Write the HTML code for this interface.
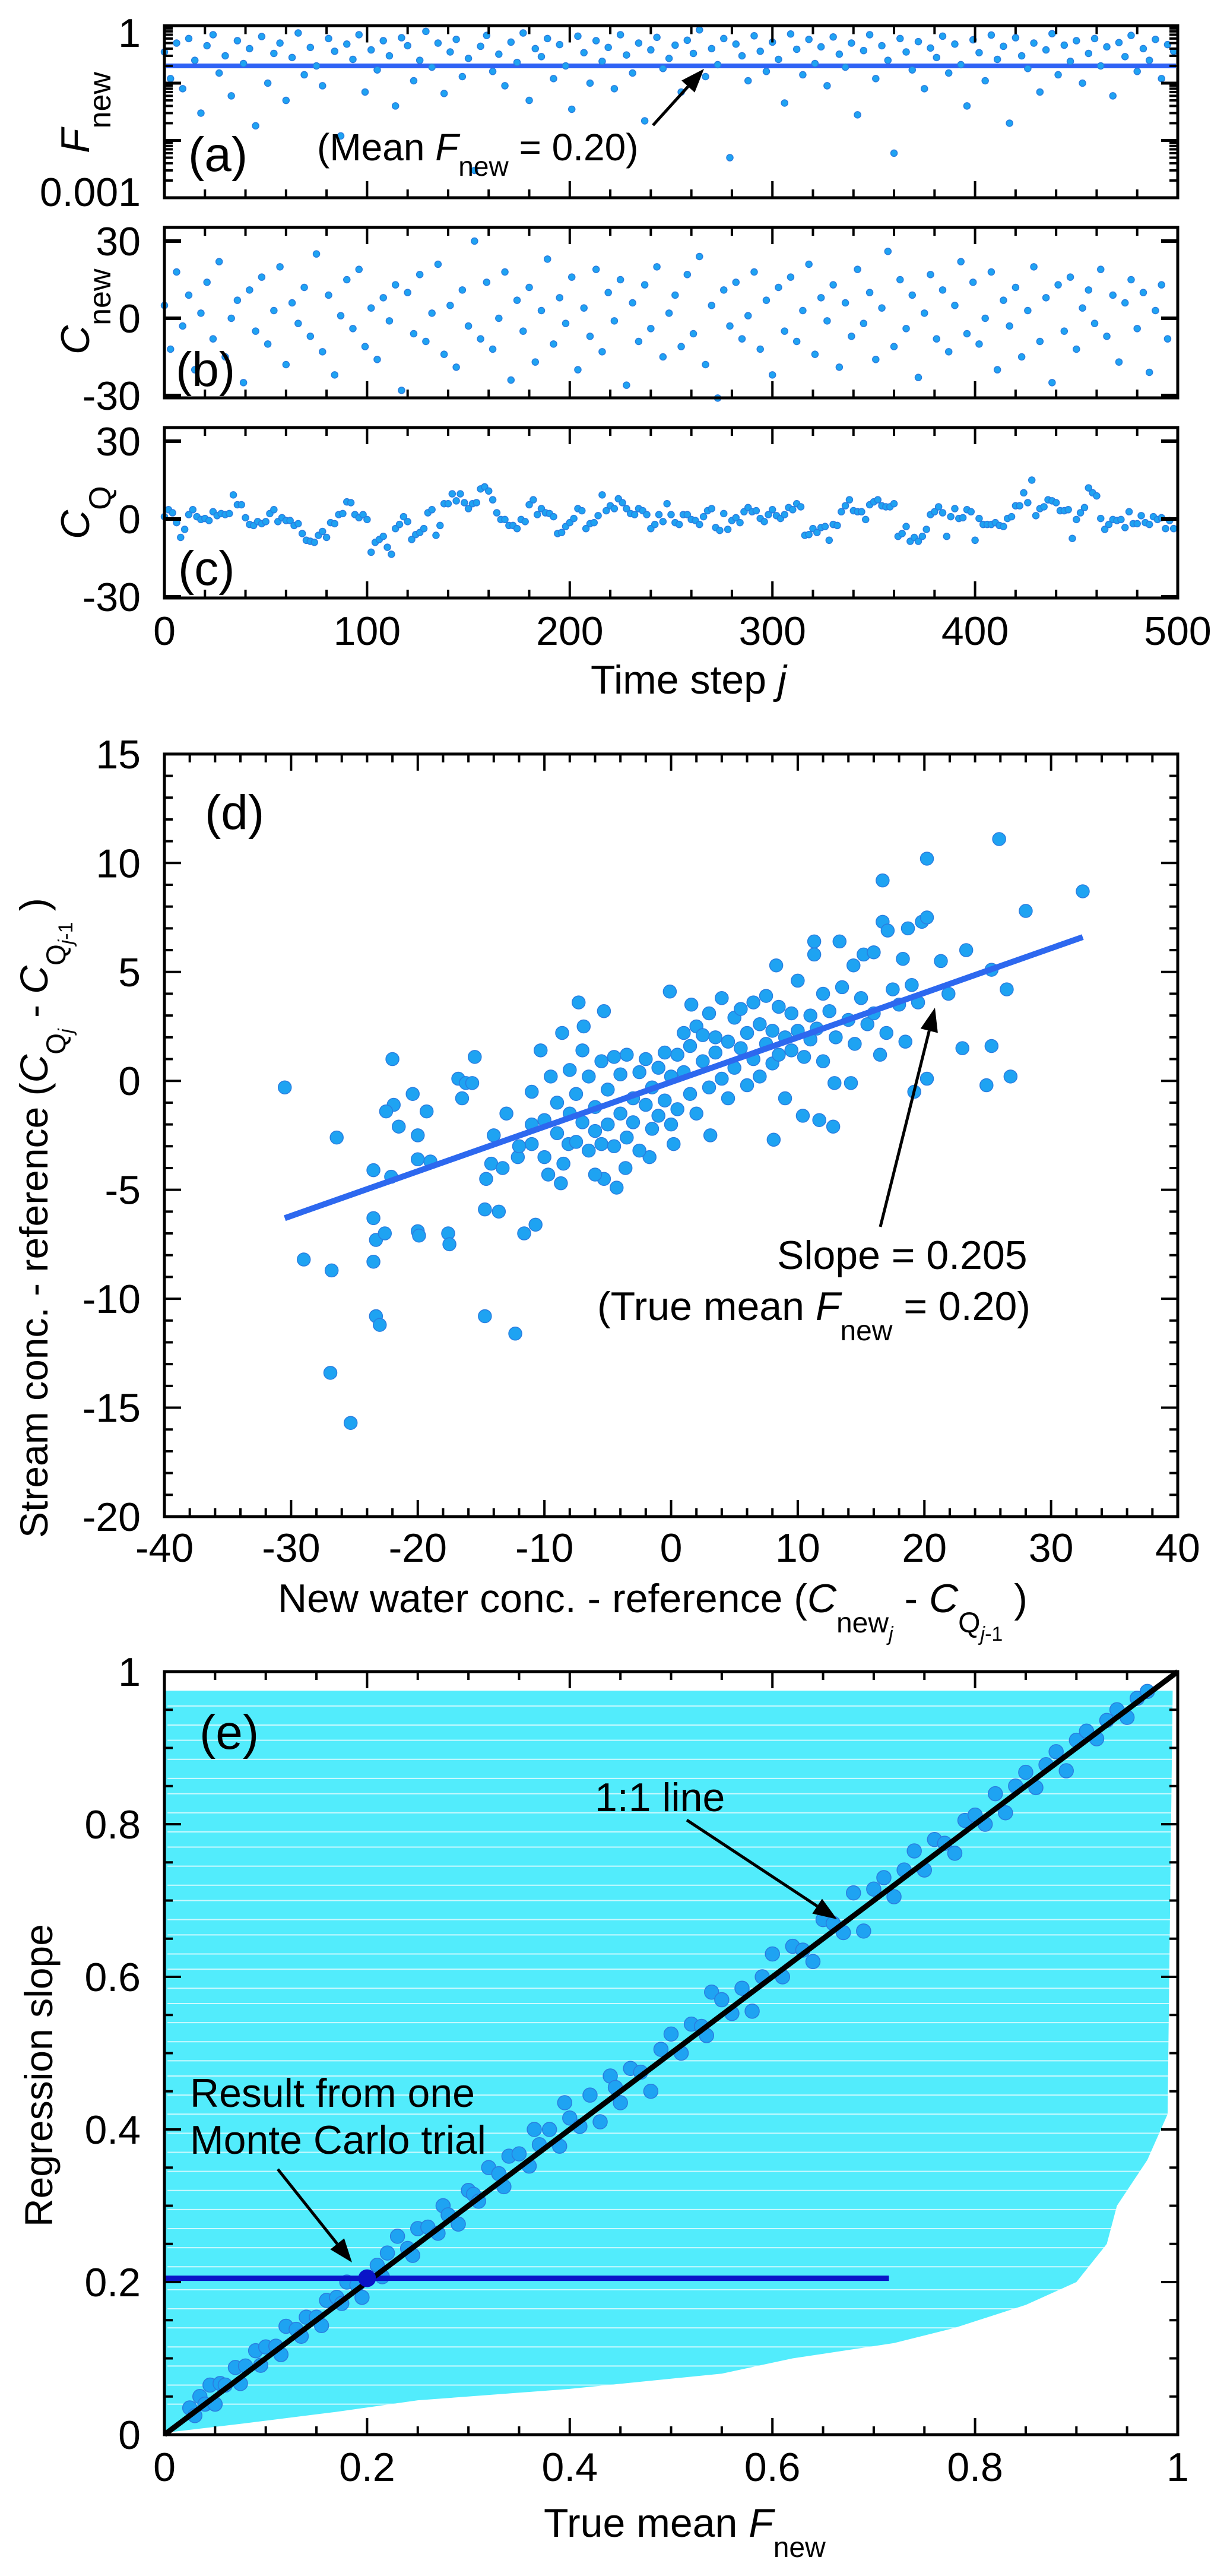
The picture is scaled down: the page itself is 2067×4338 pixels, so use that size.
<!DOCTYPE html>
<html><head><meta charset="utf-8"><style>
html,body{margin:0;padding:0;background:#fff;}
svg{display:block;font-family:"Liberation Sans",Arial,sans-serif;}
</style></head><body>
<svg id="fig" width="2067" height="4338" viewBox="0 0 2067 4338" xmlns="http://www.w3.org/2000/svg">
<g id="panelE-bg"></g>
<g id="marks"></g>
<g id="axes"></g>

<g font-size="68" fill="#000">
 <text x="317" y="288" font-size="82">(a)</text>
 <text x="296" y="650" font-size="82">(b)</text>
 <text x="300" y="985" font-size="82">(c)</text>
 <text x="345" y="1396" font-size="82">(d)</text>
 <text x="336" y="2945" font-size="82">(e)</text>

 <text x="534" y="270" font-size="64">(Mean <tspan font-style="italic">F</tspan><tspan font-size="46" dy="26">new</tspan><tspan dy="-26"> = 0.20)</tspan></text>
 <text x="1309" y="2137" font-size="68">Slope = 0.205</text>
 <text x="1006" y="2223" font-size="68">(True mean <tspan font-style="italic">F</tspan><tspan font-size="48" dy="34">new</tspan><tspan dy="-34"> = 0.20)</tspan></text>
 <text x="1002" y="3050" font-size="68">1:1 line</text>
 <text x="320" y="3548" font-size="68">Result from one</text>
 <text x="320" y="3627" font-size="68">Monte Carlo trial</text>

 <text x="1160" y="1168" text-anchor="middle">Time step <tspan font-style="italic">j</tspan></text>
 <text x="468" y="2715">New water conc. - reference (<tspan font-style="italic">C</tspan><tspan font-size="48" dy="34">new</tspan><tspan font-size="34" dy="14" font-style="italic">j</tspan><tspan dy="-48">  - </tspan><tspan font-style="italic">C</tspan><tspan font-size="48" dy="34">Q</tspan><tspan font-size="34" dy="14"><tspan font-style="italic">j</tspan>-1</tspan><tspan dy="-48"> )</tspan></text>
 <text x="916" y="4272">True mean <tspan font-style="italic">F</tspan><tspan font-size="48" dy="34">new</tspan></text>

 <text transform="translate(150,258) rotate(-90)"><tspan font-style="italic">F</tspan><tspan font-size="52" dy="36">new</tspan></text>
 <text transform="translate(150,597) rotate(-90)"><tspan font-style="italic">C</tspan><tspan font-size="52" dy="36">new</tspan></text>
 <text transform="translate(150,908) rotate(-90)"><tspan font-style="italic">C</tspan><tspan font-size="52" dy="36">Q</tspan></text>
 <text transform="translate(80,2590) rotate(-90)" font-size="66">Stream conc. - reference (<tspan font-style="italic">C</tspan><tspan font-size="46" dy="30">Q</tspan><tspan font-size="34" dy="12" font-style="italic">j</tspan><tspan dy="-42">  - </tspan><tspan font-style="italic">C</tspan><tspan font-size="46" dy="30">Q</tspan><tspan font-size="34" dy="12"><tspan font-style="italic">j</tspan>-1</tspan><tspan dy="-42"> )</tspan></text>
 <text transform="translate(88,3750) rotate(-90)" font-size="66">Regression slope</text>
</g>
<g id="ticklabels" font-size="68" fill="#000"></g>
</svg>
<script>
const fNew = [0.35,0.12,0.5,0.08,0.6,0.25,0.03,0.45,0.7,0.15,0.3,0.06,0.55,0.22,0.4,0.018,0.65,0.1,0.33,0.5,0.05,0.28,0.75,0.14,0.42,0.2,0.09,0.6,0.36,0.012,0.48,0.26,0.7,0.07,0.38,0.17,0.55,0.3,0.04,0.62,0.45,0.11,0.25,0.8,0.19,0.5,0.066,0.35,0.58,0.13,0.27,0.003,0.44,0.68,0.16,0.32,0.09,0.52,0.23,0.75,0.05,0.4,0.29,0.6,0.12,0.47,0.2,0.035,0.66,0.34,0.1,0.55,0.24,0.42,0.08,0.7,0.31,0.15,0.5,0.022,0.38,0.63,0.18,0.27,0.46,0.07,0.56,0.33,0.85,0.13,0.4,0.21,0.6,0.005,0.48,0.3,0.11,0.67,0.36,0.16,0.52,0.26,0.045,0.72,0.39,0.14,0.58,0.22,0.43,0.09,0.64,0.32,0.19,0.5,0.028,0.37,0.7,0.12,0.45,0.25,0.006,0.6,0.35,0.17,0.53,0.08,0.41,0.28,0.66,0.15,0.48,0.21,0.04,0.57,0.34,0.11,0.69,0.26,0.44,0.02,0.62,0.3,0.18,0.5,0.07,0.38,0.73,0.14,0.46,0.24,0.55,0.1,0.33,0.6,0.2,0.43,0.06,0.51,0.29,0.68,0.16,0.4,0.25,0.58,0.12,0.47,0.36];
const fNewStep = 3;
const fMean = [0.2];

const cNew = [5,-12,18,-3,9,-20,2,14,-8,22,-15,0,7,-25,11,-5,16,-10,3,20,-18,6,-2,12,-7,25,-13,9,-22,1,15,-4,19,-11,4,-16,8,-1,13,-28,10,-6,17,-9,2,21,-14,5,-19,11,-3,30,-8,14,-12,0,18,-24,7,-5,12,-17,3,23,-10,8,-2,16,-20,4,-7,19,-13,10,-1,15,-26,6,-9,13,-4,20,-15,2,9,-11,17,-6,24,-18,5,-31,11,-3,14,-8,1,18,-12,7,-22,12,-5,16,-9,3,21,-14,8,-1,13,-19,6,-7,19,-2,10,-16,4,26,-11,15,-4,9,-23,2,17,-8,11,-13,5,22,-6,14,-10,0,18,-20,7,-3,12,-15,3,20,-9,8,-25,13,-5,16,-12,4,11,-2,19,-7,9,-17,6,15,-4,10,-21,3,13,-8];
const cNewStep = 3;

const cQ = [0.9,3.6,2.4,-1.4,-7.1,-4.0,1.7,3.6,0.9,-0.2,0.2,-0.6,2.8,1.3,2.1,1.7,2.1,9.3,5.5,5.5,0.5,-2.1,-2.5,-1.0,-1.8,-1.0,2.1,3.6,-1.0,0.5,-0.6,-0.6,-2.5,-1.8,-5.6,-8.2,-8.6,-9.0,-6.3,-4.8,-7.1,-1.4,-1.8,1.7,2.1,6.6,6.3,1.7,0.5,1.7,-0.2,-12.8,-9.0,-7.9,-6.7,-10.9,-13.6,-3.7,-2.1,0.9,-1.0,-7.9,-6.0,-5.2,-3.7,2.4,3.6,-6.3,-2.5,5.9,5.9,9.7,7.0,9.7,6.3,4.0,5.9,6.3,11.6,12.4,10.8,7.4,2.4,-0.2,-0.2,-2.5,-2.5,-3.7,-0.2,-1.0,5.5,7.4,1.7,4.0,2.4,2.1,0.9,-5.6,-5.2,-2.9,-1.4,0.2,4.0,3.2,-3.7,-1.8,-1.4,1.3,9.3,3.2,5.1,4.0,7.8,6.3,4.0,2.1,1.7,4.0,3.2,1.7,-3.7,-2.1,1.7,-1.0,5.9,1.7,-1.4,-2.1,1.7,1.7,-0.2,-0.6,-2.1,0.9,3.2,4.0,-3.3,-4.4,2.1,-4.0,-0.6,0.5,-1.4,2.8,4.4,2.8,3.2,0.2,-1.0,1.7,3.6,1.3,0.2,1.7,4.4,3.6,5.9,4.7,-6.3,-6.0,-3.7,-5.2,-3.3,-2.9,-8.2,-2.1,-2.5,2.8,5.1,7.4,3.2,2.8,2.8,-0.2,5.5,6.6,7.4,5.1,4.7,4.7,5.9,-6.7,-5.6,-2.9,-8.6,-7.1,-8.6,-6.7,-4.0,1.7,2.8,4.7,2.4,-6.7,0.9,4.0,0.2,0.5,3.6,2.8,-8.2,0.2,-2.1,-2.1,-2.1,-1.4,-2.5,-2.9,0.2,0.9,5.1,5.1,10.1,6.3,15.0,1.3,4.0,4.7,7.4,7.0,6.3,3.2,3.2,3.6,-7.5,-0.2,2.4,4.4,12.0,10.1,8.9,0.2,-4.0,-2.1,-0.2,-0.6,-0.2,-3.3,2.8,-1.8,-1.8,1.3,-1.4,-2.1,0.9,-0.2,0.5,-3.7,-0.6,-3.7];
const cQStep = 2;

const dX = [-30.5,-29,-26.8,-26.4,-26.9,-25.3,-23.5,-23.5,-23.3,-23.5,-23.3,-23,-22.6,-22.1,-22,-21.9,-22.5,-21.5,-20.4,-20,-20,-20,-19.9,-19.3,-19,-17.6,-17.5,-16.8,-16.5,-16.2,-15.5,-15.7,-14.7,-12.3,-14.7,-13.6,-11.6,-10.7,-10.3,-7.3,-5.3,-8.6,-6.9,-0.1,1.6,8.3,11.3,13.3,11.3,16.7,16.7,17.1,18.7,19.8,20.2,20.2,25.9,32.5,28,23.3,21.3,25.3,26.5,21.9,23,25.3,24.9,26.8,20.2,19.2,18.3,14.4,15.2,16,14.2,12.9,12.8,11.7,10.4,8.1,3.1,0.2,-1.7,-3.6,-4.3,-5.3,-6,-8.7,-9.7,-8.1,-11,-12.1,-14.6,-14.2,-13.3,
 -14,-13,-12,-11,-11,-10,-10,-9.5,-9,-9,-8.5,-8,-8,-7.5,-7.5,-7,-7,-6.5,-6.5,-6,-6,-5.5,-5.5,-5,-5,-4.5,-4.5,-4,-4,-3.5,-3.5,-3,-3,-2.5,-2.5,-2,-2,-1.5,-1.5,-1,-1,-0.5,-0.5,0,0,0.5,0.5,1,1,1.5,1.5,2,2,2.5,2.5,3,3,3.5,3.5,4,4,4.5,4.5,5,5,5.5,5.5,6,6,6.5,6.5,7,7,7.5,7.5,8,8,8.5,8.5,9,9,9.5,9.5,10,10,10.5,11,11,11.5,12,12,12.5,13,13.5,14,14.5,15,15.5,16,16.5,17,17.5,18,18.5,19,19.5];
const dY = [-0.3,-8.2,-8.7,-2.6,-13.4,-15.7,-4.1,-6.3,-7.3,-8.3,-10.8,-11.2,-7,-4.4,1,-1.1,-1.4,-2.1,-0.6,-2.5,-3.6,-6.9,-7.1,-1.4,-3.7,-7,-7.5,0.1,-0.8,-0.1,1.1,-0.1,-10.8,-11.6,-5.9,-6,-7,-6.6,1.4,3.6,3.2,2.2,2.5,4.1,3.5,5.3,6.4,6.4,5.8,9.2,7.3,6.9,7,7.3,7.5,10.2,11.1,8.7,7.8,6,5.5,5.1,4.2,4,1.5,1.6,-0.2,0.2,0.1,-0.5,5.6,5.3,5.8,5.9,-0.1,-0.1,-2.1,-1.8,-1.6,-2.7,-2.5,-2.9,-3.5,-4,-4.9,-4.5,-4.3,-4.7,-4.3,-2.9,-2.9,-3.5,-4.5,-3.8,-4,
 -2.5,-1.5,-3,-2,-0.5,-1.8,-3.5,0.2,-1,-2.4,-3.8,0.5,-1.5,-0.6,-2.8,1.4,-1.9,0.2,-3.2,-1.2,-2.3,0.9,-2.9,-0.4,-2,1.1,-3,0.3,-1.5,-2.6,1.2,-0.8,-1.9,0.4,-3.2,-1.1,1,-2.2,-0.3,0.6,-1.6,1.3,-0.9,-2,0.2,1.2,-1.3,0.4,2.2,-0.6,1.6,2.5,-1.5,0.9,2.1,3.1,-0.3,1.3,2,0.1,3.8,1.8,-0.8,2.9,0.6,1.5,3.3,-0.2,2.2,1,3.6,2.6,0.2,1.7,3.9,0.8,2.3,3.4,1.2,2,-0.8,3.1,1.4,4.6,2.3,1.1,3,1.9,2.4,4,0.9,3.2,2,4.3,2.8,1.7,3.8,2.6,3.1,1.2,2.2,4.2,3.5,1.8,4.4,3.6];
const dFitX = [-30.5, 32.5];
const dFitY = [-6.3, 6.6];

const eTrueF = [0.025,0.03,0.035,0.04,0.045,0.05,0.055,0.06,0.07,0.075,0.08,0.09,0.095,0.1,0.11,0.115,0.12,0.13,0.135,0.14,0.15,0.155,0.16,0.17,0.175,0.18,0.19,0.195,0.2,0.21,0.215,0.22,0.23,0.24,0.245,0.25,0.26,0.27,0.275,0.28,0.29,0.3,0.305,0.31,0.32,0.33,0.335,0.34,0.35,0.36,0.365,0.37,0.38,0.39,0.395,0.4,0.41,0.42,0.43,0.44,0.445,0.45,0.46,0.47,0.48,0.49,0.5,0.51,0.52,0.53,0.535,0.54,0.55,0.56,0.57,0.58,0.59,0.6,0.61,0.62,0.63,0.64,0.65,0.66,0.67,0.68,0.69,0.7,0.71,0.72,0.73,0.74,0.75,0.76,0.77,0.78,0.79,0.8,0.81,0.82,0.83,0.84,0.85,0.86,0.87,0.88,0.89,0.9,0.91,0.92,0.93,0.94,0.95,0.96,0.97];
const eSlope = [0.035,0.025,0.05,0.04,0.065,0.04,0.067,0.065,0.088,0.067,0.09,0.11,0.091,0.115,0.116,0.105,0.142,0.138,0.129,0.154,0.154,0.143,0.176,0.18,0.172,0.2,0.196,0.18,0.205,0.222,0.207,0.238,0.26,0.244,0.235,0.27,0.272,0.264,0.3,0.288,0.276,0.32,0.315,0.306,0.35,0.342,0.325,0.365,0.368,0.352,0.4,0.38,0.4,0.378,0.435,0.415,0.404,0.445,0.41,0.47,0.455,0.435,0.48,0.475,0.45,0.505,0.525,0.5,0.538,0.535,0.523,0.58,0.57,0.552,0.585,0.555,0.6,0.63,0.6,0.64,0.635,0.62,0.675,0.67,0.658,0.71,0.66,0.715,0.73,0.705,0.74,0.765,0.74,0.78,0.775,0.762,0.805,0.812,0.8,0.84,0.815,0.85,0.868,0.848,0.878,0.895,0.87,0.91,0.922,0.912,0.936,0.95,0.94,0.965,0.974];
const eHighlightF = [0.2];
const eHighlightSlope = [0.205];
const eHighlightEnd = [0.715];
const envSlope = [0.975,0.42,0.36,0.3,0.25,0.2,0.17,0.14,0.12,0.1,0.08,0.06,0.045,0.03,0.015,0.004];
const envEnd   = [0.995,0.99,0.97,0.94,0.93,0.9,0.85,0.78,0.72,0.62,0.55,0.4,0.25,0.17,0.08,0.01];
const gapSlope = [0.955,0.93,0.91,0.885,0.86,0.84,0.815,0.79,0.77,0.745,0.72,0.70,0.675,0.655,0.63,0.61,0.585,0.565,0.54,0.515,0.49,0.47,0.445,0.42,0.395,0.37,0.345,0.32,0.295,0.27,0.245,0.22,0.19,0.165,0.14,0.115,0.09,0.065,0.04];

const L = 277, R = 1984;
const xJ = j => L + j / 500 * (R - L);
const yA = f => 43.5 - Math.log10(f) * 96.5;
const yB = v => 536 - v * 4.333;
const yC = v => 874 - v * 4.367;
const xD = v => L + (v + 40) * (R - L) / 80;
const yD = v => 2554 - (v + 20) * 36.69;
const xE = v => L + v * (R - L);
const yE = v => 4100 - v * 1285;

const NS = 'http://www.w3.org/2000/svg';
function mk(parent, tag, attrs) {
  const e = document.createElementNS(NS, tag);
  for (const k in attrs) e.setAttribute(k, attrs[k]);
  parent.appendChild(e);
  return e;
}
const marks = document.getElementById('marks');
const axes = document.getElementById('axes');
const tl = document.getElementById('ticklabels');
const ebg = document.getElementById('panelE-bg');

{
  let pts = [];
  for (let i = 0; i < envSlope.length; i++) pts.push(xE(envEnd[i]) + ',' + yE(envSlope[i]));
  pts.push(xE(0) + ',' + yE(envSlope[envSlope.length - 1]));
  pts.push(xE(0) + ',' + yE(envSlope[0]));
  const p = mk(ebg, 'polygon', {points: pts.join(' '), fill: '#52ecfc'});
  
  
  for (const g of gapSlope) {
    const ln = mk(ebg, 'line', {x1: xE(0.003), x2: xE(0.998), y1: yE(g), y2: yE(g), stroke: '#ffffff', 'stroke-width': 2, 'stroke-opacity': 0.7});
    
    
  }
}

function dot(cx, cy, r, name) {
  const c = mk(marks, 'circle', {cx: cx, cy: cy, r: r, fill: '#1ea3f2', stroke: '#2a7de0', 'stroke-width': 1.5});
  
  
  return c;
}
{
  const ln = mk(marks, 'line', {x1: L + 3, x2: R - 3, y1: yA(fMean[0]), y2: yA(fMean[0]), stroke: '#2f62f5', 'stroke-width': 8});
  
  
}
fNew.forEach((f, i) => { const j = i * fNewStep; if (j <= 500) dot(xJ(j), yA(f), 5.5, 'fnew-point'); });
cNew.forEach((v, i) => { const j = i * cNewStep; if (j <= 500) dot(xJ(j), yB(v), 5.5, 'cnew-point'); });
cQ.forEach((v, i) => { const j = i * cQStep; if (j <= 500) dot(xJ(j), yC(v), 5.5, 'cq-point'); });
dX.forEach((x, i) => dot(xD(x), yD(dY[i]), 11, 'scatter-d-point'));
{
  const ln = mk(marks, 'line', {x1: xD(dFitX[0]), y1: yD(dFitY[0]), x2: xD(dFitX[1]), y2: yD(dFitY[1]), stroke: '#2d68ef', 'stroke-width': 10});
  
  
}
eTrueF.forEach((x, i) => dot(xE(x), yE(eSlope[i]), 12, 'trial-slope-point'));
{
  const ln = mk(marks, 'line', {x1: xE(0), y1: yE(eHighlightSlope[0]), x2: xE(eHighlightEnd[0]), y2: yE(eHighlightSlope[0]), stroke: '#0a14c8', 'stroke-width': 9});
  
  
  const d = mk(marks, 'line', {x1: xE(0), y1: yE(0), x2: xE(1), y2: yE(1), stroke: '#000', 'stroke-width': 9});
  
  
  const c = mk(marks, 'circle', {cx: xE(eHighlightF[0]), cy: yE(eHighlightSlope[0]), r: 15, fill: '#0a14c8'});
  
  
}

function arrow(x1, y1, x2, y2, name) {
  const g = mk(marks, 'g', {});
  
  
  const a = Math.atan2(y2 - y1, x2 - x1), hl = 40, hw = 15;
  const bx = x2 - hl * Math.cos(a), by = y2 - hl * Math.sin(a);
  mk(g, 'line', {x1: x1, y1: y1, x2: bx, y2: by, stroke: '#000', 'stroke-width': 5});
  const px = -Math.sin(a) * hw, py = Math.cos(a) * hw;
  mk(g, 'polygon', {points: `${x2},${y2} ${bx + px},${by + py} ${bx - px},${by - py}`, fill: '#000'});
}
arrow(1100, 211, 1186, 116, 'mean-arrow');
arrow(1483, 2066, 1575, 1697, 'slope-arrow');
arrow(1157, 3065, 1410, 3232, 'one-to-one-arrow');
arrow(468, 3653, 593, 3810, 'monte-carlo-arrow');

function frame(x, y, w, h, name) {
  const r = mk(axes, 'rect', {x: x, y: y, width: w, height: h, fill: 'none', stroke: '#000', 'stroke-width': 5});
  
  
}
function tick(x1, y1, x2, y2, w) {
  const t = mk(axes, 'line', {x1: x1, y1: y1, x2: x2, y2: y2, stroke: '#000', 'stroke-width': w || 4});
  
  
}
function label(x, y, s, anchor) {
  const t = mk(tl, 'text', {x: x, y: y, 'text-anchor': anchor});
  t.textContent = s;
  
  
}
const panels = [[43.5, 333], [383, 670], [720, 1007]];
panels.forEach(([t, b], k) => {
  frame(L, t, R - L, b - t, 'panel-' + 'abc'[k] + '-frame');
  for (let j = 0; j <= 500; j += 20) {
    const len = j % 100 === 0 ? 28 : 14;
    tick(xJ(j), t, xJ(j), t + len); tick(xJ(j), b, xJ(j), b - len);
  }
});
[0, 100, 200, 300, 400, 500].forEach(j => label(xJ(j), 1086, String(j), 'middle'));
for (let d = -3; d <= 0; d++) {
  tick(L, yA(Math.pow(10, d)), L + 28, yA(Math.pow(10, d)), 5);
  tick(R, yA(Math.pow(10, d)), R - 28, yA(Math.pow(10, d)), 5);
  if (d < 0) for (let m = 2; m <= 9; m++) {
    const v = m * Math.pow(10, d);
    tick(L, yA(v), L + 14, yA(v), 4); tick(R, yA(v), R - 14, yA(v), 4);
  }
}
label(237, 79, '1', 'end');
label(237, 347, '0.001', 'end');
[yB, yC].forEach(f => {
  [-30, 0, 30].forEach(v => { tick(L, f(v), L + 28, f(v), 6); tick(R, f(v), R - 28, f(v), 6); });
  label(237, f(30) + 24, '30', 'end'); label(237, f(0) + 24, '0', 'end'); label(237, f(-30) + 24, '-30', 'end');
});
frame(L, yD(15), R - L, yD(-20) - yD(15), 'panel-d-frame');
for (let v = -40; v <= 40; v += 2) {
  const len = v % 10 === 0 ? 28 : 14;
  tick(xD(v), yD(15), xD(v), yD(15) + len); tick(xD(v), yD(-20), xD(v), yD(-20) - len);
}
for (let v = -20; v <= 15; v += 1) {
  const len = v % 5 === 0 ? 28 : 14;
  tick(L, yD(v), L + len, yD(v)); tick(R, yD(v), R - len, yD(v));
}
for (let v = -40; v <= 40; v += 10) label(xD(v), 2630, String(v), 'middle');
for (let v = -20; v <= 15; v += 5) label(237, yD(v) + 24, String(v), 'end');
frame(L, yE(1), R - L, yE(0) - yE(1), 'panel-e-frame');
for (let i = 0; i <= 20; i++) {
  const v = i * 0.05, len = i % 4 === 0 ? 28 : 14;
  tick(xE(v), yE(1), xE(v), yE(1) + len); tick(xE(v), yE(0), xE(v), yE(0) - len);
  tick(L, yE(v), L + len, yE(v)); tick(R, yE(v), R - len, yE(v));
}
['0', '0.2', '0.4', '0.6', '0.8', '1'].forEach((s, i) => {
  label(xE(i * 0.2), 4178, s, 'middle');
  label(237, yE(i * 0.2) + 24, s, 'end');
});
</script>
</body></html>
